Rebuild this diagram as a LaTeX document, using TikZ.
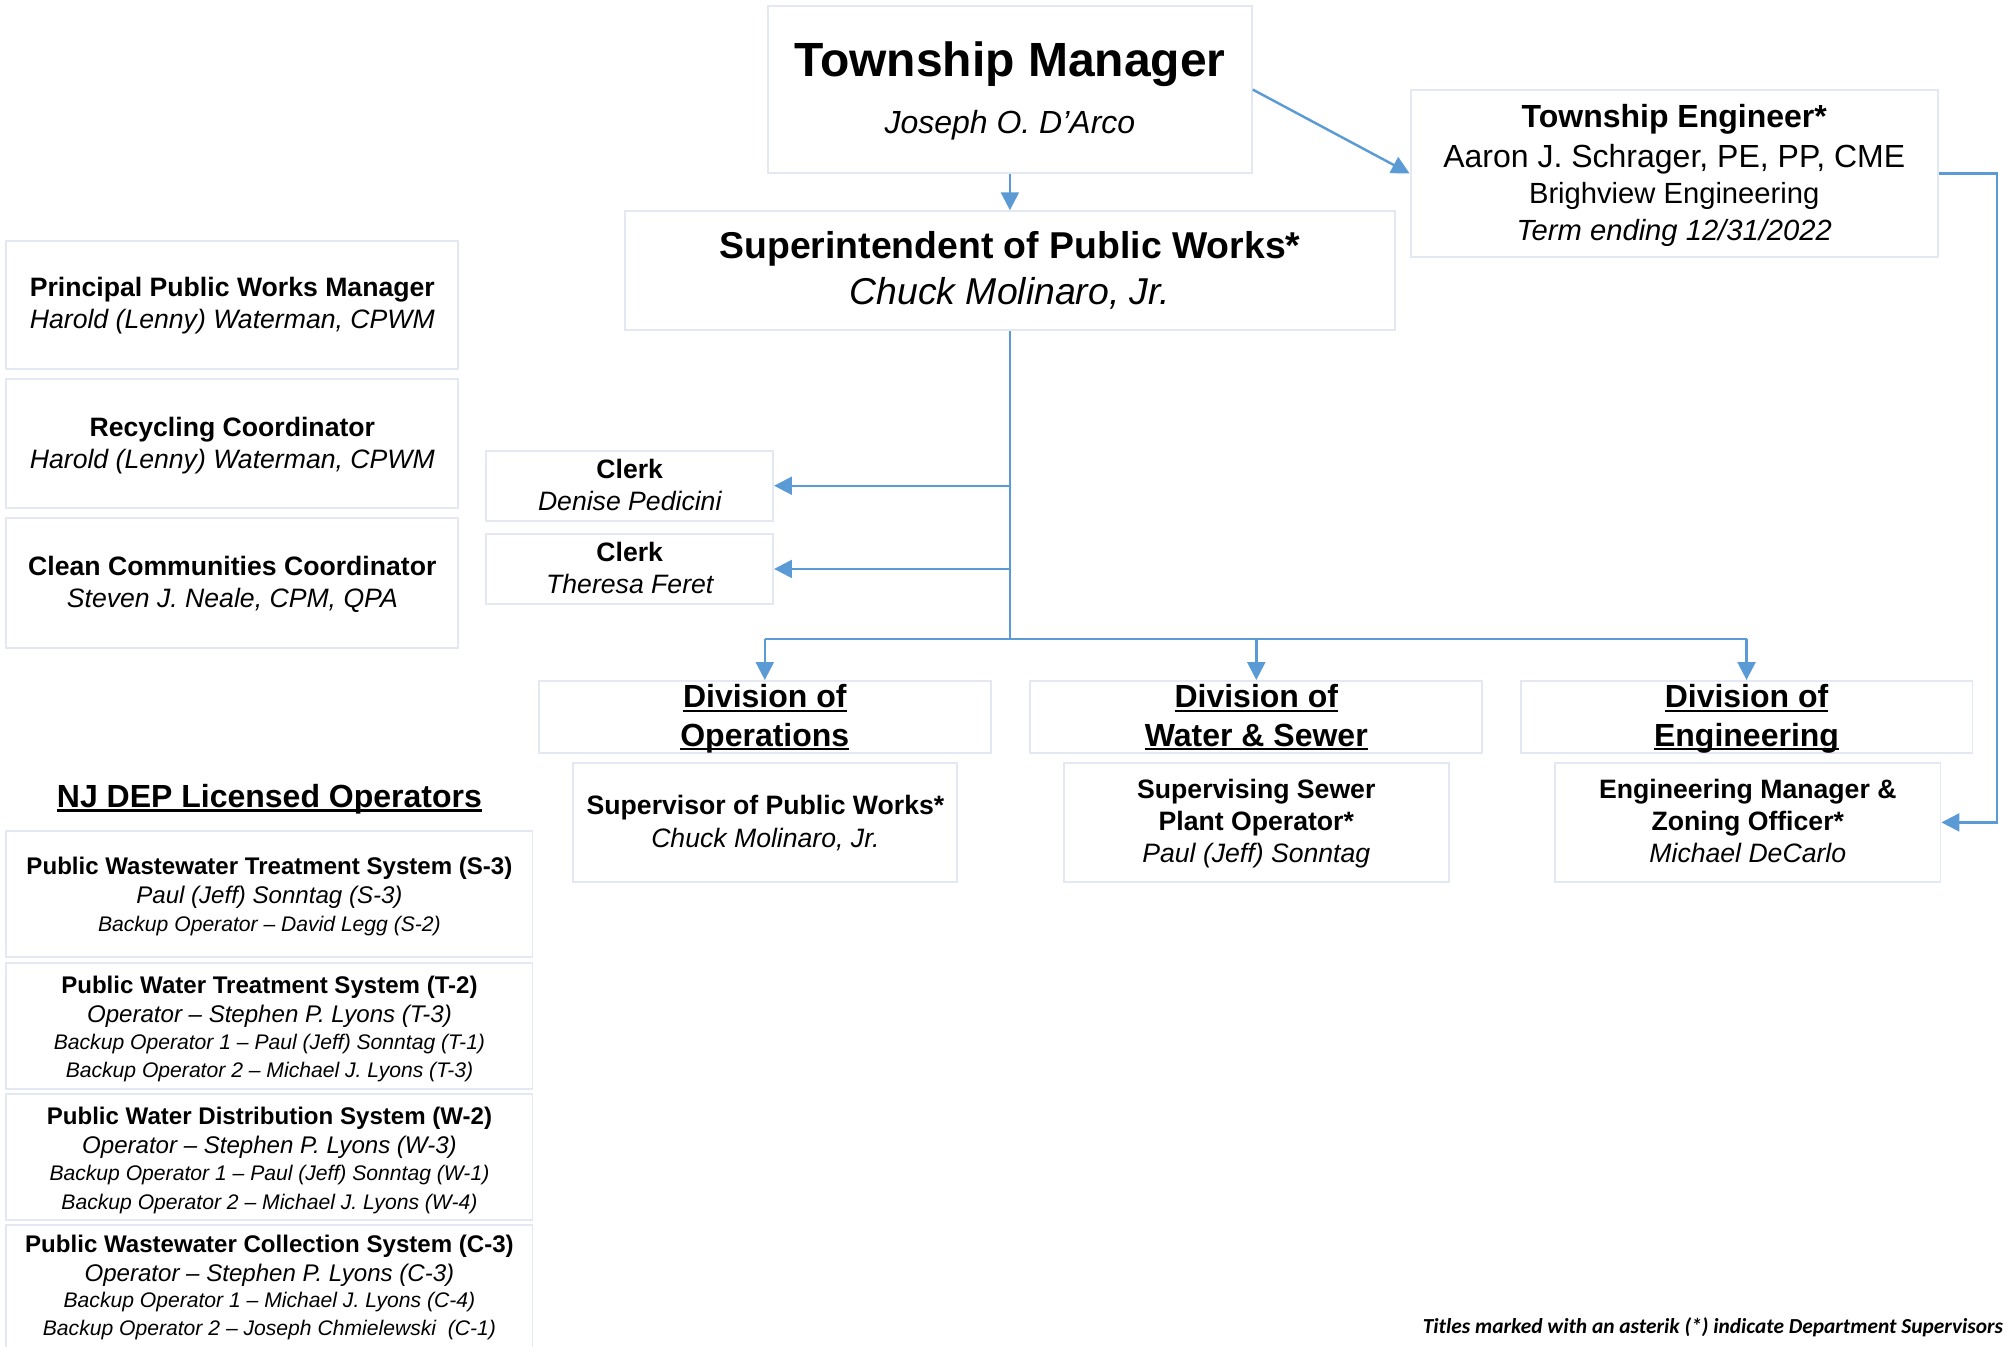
\documentclass[tikz,border=0pt]{standalone}
\usepackage{fontspec}
\setmainfont{Liberation Sans}
\newfontfamily\notefont{Carlito}
\usetikzlibrary{arrows.meta}
\definecolor{boxline}{HTML}{E3E8F2}
\definecolor{conncol}{HTML}{5B9BD5}
\newcommand{\fs}[1]{\fontsize{#1}{#1}\selectfont}
\newcommand{\ul}[1]{\setbox0=\hbox{#1}\rlap{\rule[-3.2pt]{\wd0}{1.8pt}}\box0}
\newcommand{\obox}[5]{\node[box,minimum width={#4-#2},minimum height={#5-#3}] (#1) at ({(#2+#4)/2},{(#3+#5)/2}) {};}
% text line: name, box, baseline y, font, text
\newcommand{\tl}[5]{\node[txt] (#1) at (#2 |- 0,#3) {#4#5};}
\tikzset{
  box/.style={draw=boxline, line width=1.5pt, inner sep=0pt, anchor=center},
  txt/.style={anchor=base, inner sep=0pt},
  conn/.style={draw=conncol, line width=1.9pt, -{Triangle[length=14pt,width=14pt]}},
  wire/.style={draw=conncol, line width=1.9pt},
}
\newcommand{\fbx}[1]{\fs{#1}\bfseries}
\newcommand{\fix}[1]{\fs{#1}\itshape}
\newcommand{\frx}[1]{\fs{#1}}
\begin{document}
\begin{tikzpicture}[x=1pt,y=-1pt]
\useasboundingbox[fill=white] (0,0) rectangle (1568,1052);

% boxes
\obox{tm}{600}{5}{978}{135}
\obox{sup}{488}{165}{1090}{258}
\obox{te}{1102}{70}{1514}{201}
\obox{ppwm}{5}{188}{358}{288}
\obox{recy}{5}{296}{358}{397}
\obox{clean}{5}{405}{358}{506}
\obox{clerka}{380}{352}{604}{407}
\obox{clerkb}{380}{417}{604}{472}
\obox{ops}{421}{532}{774}{588}
\obox{ws}{805}{532}{1158}{588}
\obox{eng}{1188}{532}{1541}{588}
\obox{opssub}{448}{596}{748}{689}
\obox{wssub}{831}{596}{1132}{689}
\obox{engsub}{1215}{596}{1516}{689}
\obox{opa}{5}{649}{416}{748}
\obox{opb}{5}{752}{416}{851}
\obox{opc}{5}{855}{416}{953}
\obox{opd}{5}{957}{416}{1060}

% texts
\tl{tmA}{tm}{60}{\fbx{37.5}}{Township Manager}
\tl{tmB}{tm}{104}{\fix{25}}{Joseph O. D’Arco}
\tl{supA}{sup}{202}{\fbx{29.2}}{Superintendent of Public Works*}
\tl{supB}{sup}{238}{\fix{29.2}}{Chuck Molinaro, Jr.}
\tl{teA}{te}{99.5}{\fbx{25}}{Township Engineer*}
\tl{teB}{te}{130.5}{\frx{25}}{Aaron J. Schrager, PE, PP, CME}
\tl{teC}{te}{159}{\frx{22.8}}{Brighview Engineering}
\tl{teD}{te}{188}{\fix{22.8}}{Term ending 12/31/2022}

\tl{ppwmA}{ppwm}{232}{\fbx{20.8}}{Principal Public Works Manager}
\tl{ppwmB}{ppwm}{257}{\fix{20.8}}{Harold (Lenny) Waterman, CPWM}
\tl{recyA}{recy}{341}{\fbx{20.8}}{Recycling Coordinator}
\tl{recyB}{recy}{366}{\fix{20.8}}{Harold (Lenny) Waterman, CPWM}
\tl{cleanA}{clean}{450}{\fbx{20.8}}{Clean Communities Coordinator}
\tl{cleanB}{clean}{475}{\fix{20.8}}{Steven J. Neale, CPM, QPA}

\tl{clerkaA}{clerka}{374}{\fbx{20.8}}{Clerk}
\tl{clerkaB}{clerka}{399}{\fix{20.8}}{Denise Pedicini}
\tl{clerkbA}{clerkb}{439}{\fbx{20.8}}{Clerk}
\tl{clerkbB}{clerkb}{464}{\fix{20.8}}{Theresa Feret}

\tl{opsA}{ops}{553}{\fbx{25}}{\ul{Division of}}
\tl{opsB}{ops}{583}{\fbx{25}}{\ul{Operations}}
\tl{wsA}{ws}{553}{\fbx{25}}{\ul{Division of}}
\tl{wsB}{ws}{583}{\fbx{25}}{\ul{Water \& Sewer}}
\tl{engA}{eng}{553}{\fbx{25}}{\ul{Division of}}
\tl{engB}{eng}{583}{\fbx{25}}{\ul{Engineering}}

\tl{opssubA}{opssub}{636}{\fbx{20.8}}{Supervisor of Public Works*}
\tl{opssubB}{opssub}{662}{\fix{20.8}}{Chuck Molinaro, Jr.}
\tl{wssubA}{wssub}{624}{\fbx{20.8}}{Supervising Sewer}
\tl{wssubB}{wssub}{649}{\fbx{20.8}}{Plant Operator*}
\tl{wssubC}{wssub}{674}{\fix{20.8}}{Paul (Jeff) Sonntag}
\tl{engsubA}{engsub}{624}{\fbx{20.8}}{Engineering Manager \&}
\tl{engsubB}{engsub}{649}{\fbx{20.8}}{Zoning Officer*}
\tl{engsubC}{engsub}{674}{\fix{20.8}}{Michael DeCarlo}

\tl{njdep}{opa}{631}{\fbx{25}}{\ul{NJ DEP Licensed Operators}}

\tl{opaA}{opa}{683.5}{\fbx{18.8}}{Public Wastewater Treatment System (S-3)}
\tl{opaB}{opa}{705.5}{\fix{18.8}}{Paul (Jeff) Sonntag (S-3)}
\tl{opaC}{opa}{727.6}{\fix{16.5}}{Backup Operator – David Legg (S-2)}

\tl{opbA}{opb}{776.5}{\fbx{18.8}}{Public Water Treatment System (T-2)}
\tl{opbB}{opb}{798.5}{\fix{18.8}}{Operator – Stephen P. Lyons (T-3)}
\tl{opbC}{opb}{819.6}{\fix{16.5}}{Backup Operator 1 – Paul (Jeff) Sonntag (T-1)}
\tl{opbD}{opb}{841.6}{\fix{16.5}}{Backup Operator 2 – Michael J. Lyons (T-3)}

\tl{opcA}{opc}{878.5}{\fbx{18.8}}{Public Water Distribution System (W-2)}
\tl{opcB}{opc}{901.5}{\fix{18.8}}{Operator – Stephen P. Lyons (W-3)}
\tl{opcC}{opc}{922.6}{\fix{16.5}}{Backup Operator 1 – Paul (Jeff) Sonntag (W-1)}
\tl{opcD}{opc}{944.6}{\fix{16.5}}{Backup Operator 2 – Michael J. Lyons (W-4)}

\tl{opdA}{opd}{978.5}{\fbx{18.8}}{Public Wastewater Collection System (C-3)}
\tl{opdB}{opd}{1001.5}{\fix{18.8}}{Operator – Stephen P. Lyons (C-3)}
\tl{opdC}{opd}{1021.6}{\fix{16.5}}{Backup Operator 1 – Michael J. Lyons (C-4)}
\tl{opdD}{opd}{1043.6}{\fix{16.5}}{Backup Operator 2 – Joseph Chmielewski\ \ (C-1)}

% note
\node[anchor=base east, inner sep=0pt] (note) at (1565,1042) {\notefont\fs{16.7}\bfseries\itshape Titles marked with an asterik (*) indicate Department Supervisors};

% connectors
\coordinate (bus) at (0,499);
\coordinate (rr) at (1560,0);
\draw[conn] (tm) -- (sup);
\draw[conn] (tm.east) -- (te.west);
\draw[conn] (te.east) -- (te.east -| rr) |- (engsub.east);
\draw[wire] (sup.south) -- (sup.south |- bus);
\draw[conn] (sup.south |- clerka) -- (clerka.east);
\draw[conn] (sup.south |- clerkb) -- (clerkb.east);
\draw[wire] (ops.north |- bus) -- (eng.north |- bus);
\draw[conn] (ops.north |- bus) -- (ops.north);
\draw[conn] (ws.north |- bus) -- (ws.north);
\draw[conn] (eng.north |- bus) -- (eng.north);
\end{tikzpicture}
\end{document}
